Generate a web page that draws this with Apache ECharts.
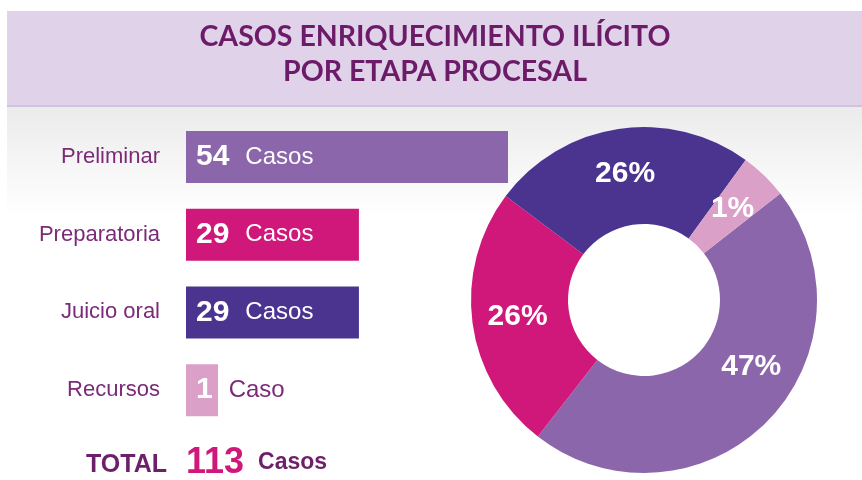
<!DOCTYPE html>
<html>
<head>
<meta charset="utf-8">
<title>Casos enriquecimiento ilícito</title>
<script src="https://cdn.jsdelivr.net/npm/echarts@6.0.0/dist/echarts.min.js"></script>
<style>
  html, body { margin: 0; padding: 0; background: #fff; }
  #chart { width: 862px; height: 480px; }
</style>
</head>
<body>
<div id="chart"></div>
<script>
// datos por etapa procesal
var etapas = ["Preliminar", "Preparatoria", "Juicio oral", "Recursos"];
var casos = [54, 29, 29, 1];
var unidades = ["Casos", "Casos", "Casos", "Caso"];
var porcentajes = ["47%", "26%", "26%", "1%"];
var colores = ["#8c66ab", "#d0177a", "#4b3490", "#dba0c8"];

var total = casos.reduce(function (a, b) { return a + b; }, 0);

var morado = "#7b2a78";
var sans = "'Liberation Sans', Arial, sans-serif";

var chart = echarts.init(document.getElementById("chart"));

chart.setOption({
  animation: false,
  backgroundColor: "#ffffff",
  title: {
    text: "CASOS ENRIQUECIMIENTO ILÍCITO\nPOR ETAPA PROCESAL",
    left: 430,
    textAlign: "center",
    top: 14,
    textStyle: {
      fontFamily: "Lato, sans-serif",
      fontWeight: "bold",
      fontSize: 28.5,
      lineHeight: 35,
      color: "#6c1b69",
    },
  },
  graphic: [
    {
      type: "rect",
      z: -10,
      shape: { x: 7, y: 11, width: 855, height: 95 },
      style: { fill: "#e0d2e8" },
    },
    {
      type: "rect",
      z: -10,
      shape: { x: 7, y: 105, width: 855, height: 2 },
      style: { fill: "#d3c2dd" },
    },
    {
      type: "rect",
      z: -10,
      shape: { x: 7, y: 107, width: 855, height: 108 },
      style: {
        fill: new echarts.graphic.LinearGradient(0, 0, 0, 1, [
          { offset: 0, color: "#ebebeb" },
          { offset: 1, color: "#ffffff" },
        ]),
      },
    },
    {
      type: "text",
      x: 167,
      y: 465,
      style: {
        text: "TOTAL",
        align: "right",
        verticalAlign: "middle",
        font: "bold 25px " + sans,
        fill: "#6e1f6a",
      },
    },
    {
      type: "text",
      x: 186,
      y: 463,
      style: {
        text: "{n|" + total + "}{u|Casos}",
        verticalAlign: "middle",
        rich: {
          n: { fontFamily: sans, fontWeight: "bold", fontSize: 36, fill: "#d0177a", padding: [0, 14, 0, 0] },
          u: { fontFamily: sans, fontWeight: "bold", fontSize: 23, fill: "#6e1f6a" },
        },
      },
    },
  ],
  grid: {
    left: 186,
    width: 322,
    top: 118,
    height: 311,
  },
  xAxis: {
    type: "value",
    min: 0,
    max: 54,
    show: false,
  },
  yAxis: {
    type: "category",
    data: etapas,
    inverse: true,
    axisLine: { show: false },
    axisTick: { show: false },
    splitLine: { show: false },
    axisLabel: {
      margin: 26,
      fontFamily: sans,
      fontSize: 22,
      color: morado,
    },
  },
  series: [
    {
      type: "bar",
      barWidth: 52,
      barMinHeight: 32,
      data: casos.map(function (v, i) {
        return { value: v, itemStyle: { color: colores[i] } };
      }),
      label: {
        show: true,
        position: "insideLeft",
        distance: 10,
        formatter: function (p) {
          var u = p.value < 5 ? "uo" : "u";
          return "{n|" + p.value + "}{" + u + "|" + unidades[p.dataIndex] + "}";
        },
        rich: {
          n: { fontFamily: sans, fontWeight: "bold", fontSize: 30, color: "#fff", padding: [0, 16, 0, 0] },
          u: { fontFamily: sans, fontSize: 24, color: "#fff" },
          uo: { fontFamily: sans, fontSize: 24, color: morado },
        },
      },
    },
    {
      type: "pie",
      center: [644, 300],
      radius: [76, 173],
      startAngle: 38,
      minAngle: 16,
      clockwise: true,
      data: casos.map(function (v, i) {
        var item = { name: etapas[i], value: v, itemStyle: { color: colores[i] } };
        // la etiqueta del sector mayor va algo más arriba en el original
        if (i === 0) item.label = { offset: [17, -23] };
        return item;
      }),
      label: {
        show: true,
        position: "inside",
        formatter: function (p) {
          return porcentajes[p.dataIndex];
        },
        fontFamily: sans,
        fontWeight: "bold",
        fontSize: 30,
        color: "#fff",
      },
      labelLine: { show: false },
      emphasis: { disabled: true },
    },
  ],
});
</script>
</body>
</html>
